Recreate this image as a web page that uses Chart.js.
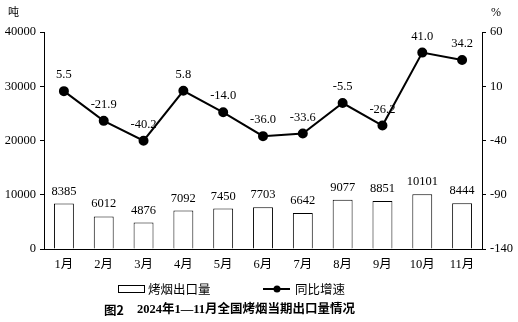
<!DOCTYPE html>
<html lang="zh-CN">
<head>
<meta charset="UTF-8">
<title>2024年1—11月全国烤烟当期出口量情况</title>
<script src="https://cdn.jsdelivr.net/npm/chart.js"></script>
<style>
  html, body { margin: 0; padding: 0; background: #fff; }
  #wrap { width: 518px; height: 322px; position: relative; }
</style>
</head>
<body>
<div id="wrap"><canvas id="chart" width="518" height="322"></canvas></div>
<script>
// 数据
const months = ['1月', '2月', '3月', '4月', '5月', '6月', '7月', '8月', '9月', '10月', '11月'];
const exportVolume = [8385, 6012, 4876, 7092, 7450, 7703, 6642, 9077, 8851, 10101, 8444];
const growthRate = [5.5, -21.9, -40.2, 5.8, -14.0, -36.0, -33.6, -5.5, -26.2, 41.0, 34.2];
const leftTicks = [0, 10000, 20000, 30000, 40000];
const rightTicks = [-140, -90, -40, 10, 60];

const serif = '"Liberation Serif", "Times New Roman", "Noto Sans CJK SC", serif';
const cjk = '"Noto Sans CJK SC", "Noto Sans", sans-serif';

// 数据标签、单位、图例和标题
const extras = {
    id: 'extras',
    afterDatasetsDraw(chart) {
        const ctx = chart.ctx;
        ctx.save();
        ctx.fillStyle = '#000';
        ctx.font = '12.5px ' + serif;
        ctx.textAlign = 'center';
        ctx.textBaseline = 'alphabetic';
        chart.getDatasetMeta(0).data.forEach((bar, i) => {
            ctx.fillText(String(exportVolume[i]), bar.x, bar.y - 9);
        });
        chart.getDatasetMeta(1).data.forEach((pt, i) => {
            ctx.fillText(growthRate[i].toFixed(1), pt.x, pt.y - 13);
        });

        // 单位
        ctx.font = '11px ' + cjk;
        ctx.textAlign = 'left';
        ctx.textBaseline = 'middle';
        ctx.fillText('吨', 8, 12);
        ctx.font = '12px ' + serif;
        ctx.fillText('%', 491, 13);

        // 图例
        ctx.strokeStyle = '#000';
        ctx.lineWidth = 1;
        ctx.strokeRect(118.5, 285.5, 26, 7);
        ctx.font = '12.5px ' + cjk;
        ctx.fillText('烤烟出口量', 148, 289);
        ctx.lineWidth = 2;
        ctx.beginPath();
        ctx.moveTo(263, 289);
        ctx.lineTo(290, 289);
        ctx.stroke();
        ctx.beginPath();
        ctx.arc(277, 289, 3.5, 0, Math.PI * 2);
        ctx.fill();
        ctx.fillText('同比增速', 295, 289);

        // 标题
        ctx.font = 'bold 12.5px ' + cjk;
        ctx.fillText('图2', 104, 310);
        ctx.font = 'bold 12.5px ' + serif;
        ctx.fillText('2024年1—11月全国烤烟当期出口量情况', 137, 310);
        ctx.restore();
    }
};

new Chart(document.getElementById('chart').getContext('2d'), {
    data: {
        labels: months,
        datasets: [
            {
                type: 'bar',
                label: '烤烟出口量',
                data: exportVolume,
                yAxisID: 'y',
                backgroundColor: '#fff',
                borderColor: '#000',
                borderWidth: 1,
                categoryPercentage: 1,
                barPercentage: 0.5,
                order: 2
            },
            {
                type: 'line',
                label: '同比增速',
                data: growthRate,
                yAxisID: 'y1',
                borderColor: '#000',
                backgroundColor: '#000',
                borderWidth: 2,
                pointRadius: 4,
                pointBackgroundColor: '#000',
                tension: 0,
                order: 1
            }
        ]
    },
    options: {
        responsive: false,
        animation: false,
        layout: { padding: { top: 32, bottom: 44, left: 0, right: 0 } },
        plugins: {
            legend: { display: false },
            tooltip: { enabled: false }
        },
        scales: {
            x: {
                grid: { display: false, drawTicks: false },
                border: { display: true, color: '#000', width: 1 },
                ticks: { color: '#000', font: { family: serif, size: 12.5 }, padding: 8, maxRotation: 0 },
                afterFit(scale) { scale.height = 29; }
            },
            y: {
                position: 'left',
                min: 0,
                max: 40000,
                afterBuildTicks(scale) { scale.ticks = leftTicks.map(v => ({ value: v })); },
                grid: { drawOnChartArea: false, drawTicks: true, tickLength: 4, color: '#000' },
                border: { display: true, color: '#000', width: 1 },
                ticks: { color: '#000', font: { family: serif, size: 12.5 }, padding: 4, callback: v => String(v) },
                afterFit(scale) { scale.width = 44; }
            },
            y1: {
                position: 'right',
                min: -140,
                max: 60,
                afterBuildTicks(scale) { scale.ticks = rightTicks.map(v => ({ value: v })); },
                grid: { drawOnChartArea: false, drawTicks: true, tickLength: 4, color: '#000' },
                border: { display: true, color: '#000', width: 1 },
                ticks: { color: '#000', font: { family: serif, size: 12.5 }, padding: 4, callback: v => String(v) },
                afterFit(scale) { scale.width = 36; }
            }
        }
    },
    plugins: [extras]
});
</script>
</body>
</html>
